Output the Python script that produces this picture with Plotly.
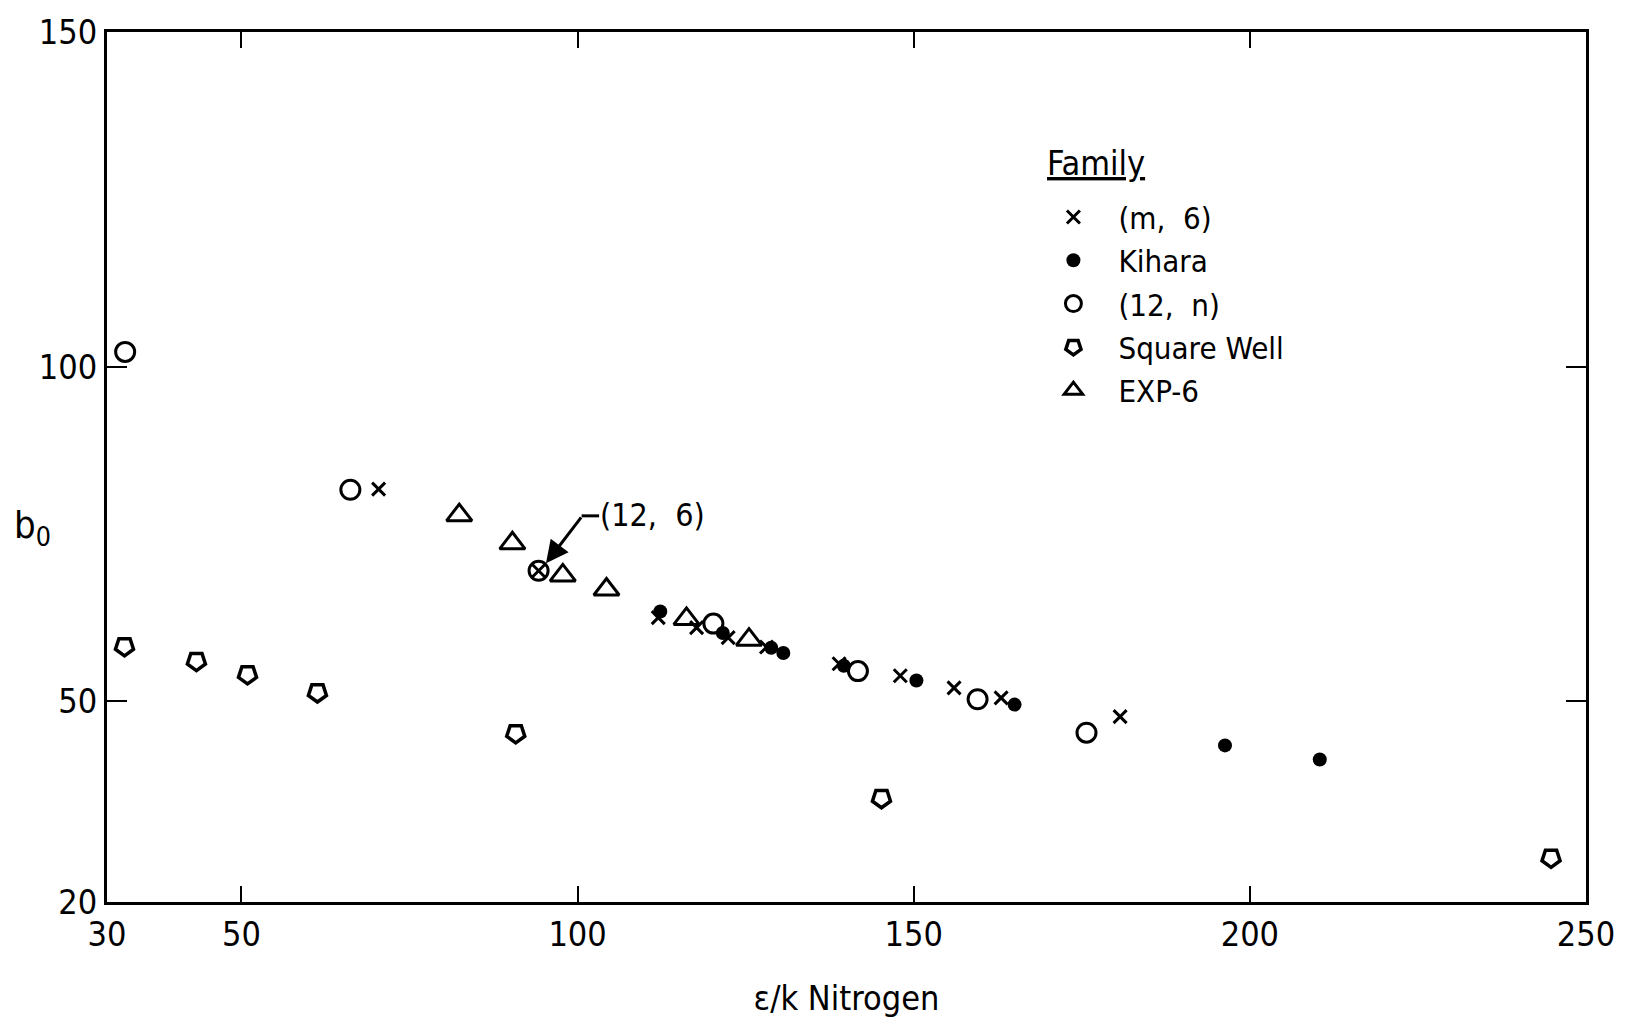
import plotly.graph_objects as go

# (m, 6) family
m6_x = [94.2, 70.4, 112.0, 117.7, 122.4, 128.1, 138.9, 148.0, 156.0, 163.0, 180.7]
m6_y = [69.5, 81.7, 62.5, 61.0, 59.5, 58.1, 55.6, 53.8, 52.0, 50.5, 47.7]
# Kihara
kihara_x = [112.3, 121.6, 128.8, 130.6, 139.6, 150.4, 165.0, 196.3, 210.4]
kihara_y = [63.4, 60.2, 58.0, 57.2, 55.3, 53.1, 49.5, 43.4, 41.3]
# (12, n)
n12_x = [32.7, 66.2, 94.2, 120.2, 141.7, 159.5, 175.7]
n12_y = [102.2, 81.6, 69.5, 61.6, 54.5, 50.3, 45.3]
# Square Well
sw_x = [32.6, 43.3, 50.9, 61.3, 90.8, 145.2, 244.8]
sw_y = [58.2, 56.0, 54.0, 51.3, 45.2, 35.5, 26.6]
# EXP-6
exp6_x = [82.4, 90.3, 97.8, 104.3, 116.2, 125.5]
exp6_y = [77.8, 73.6, 68.8, 66.7, 62.3, 59.2]

x_ticks = [30, 50, 100, 150, 200, 250]
y_ticks = [20, 50, 100, 150]

FONT = "Liberation Sans Narrow, DejaVu Sans Condensed, Liberation Sans, sans-serif"

fig = go.Figure()
fig.add_trace(go.Scatter(x=m6_x, y=m6_y, mode="markers", name="(m,  6)",
                         marker=dict(symbol="x-thin", size=13, color="black",
                                     line=dict(width=3, color="black"))))
fig.add_trace(go.Scatter(x=kihara_x, y=kihara_y, mode="markers", name="Kihara",
                         marker=dict(symbol="circle", size=14, color="black")))
fig.add_trace(go.Scatter(x=n12_x, y=n12_y, mode="markers", name="(12,  n)",
                         marker=dict(symbol="circle-open", size=19, color="black",
                                     line=dict(width=3, color="black"))))
fig.add_trace(go.Scatter(x=sw_x, y=sw_y, mode="markers", name="Square Well",
                         marker=dict(symbol="pentagon-open", size=19, color="black", angle=180,
                                     line=dict(width=3.5, color="black"))))
fig.add_trace(go.Scatter(x=exp6_x, y=exp6_y, mode="markers", name="EXP-6",
                         marker=dict(symbol="triangle-up-open", size=22, color="black",
                                     line=dict(width=3, color="black"))))

# (12, 6) callout
fig.add_annotation(x=95.3, y=70.6, xref="x", yref="y", ax=100.7, ay=77.7,
                   axref="x", ayref="y", text="", showarrow=True,
                   arrowhead=2, arrowsize=1.5, arrowwidth=3, arrowcolor="black")
fig.add_shape(type="line", xref="x", yref="y", x0=100.6, y0=77.7, x1=103.2, y1=77.7,
              line=dict(color="black", width=3))
fig.add_annotation(x=103.1, y=77.9, xref="x", yref="y", text="(12,  6)", showarrow=False,
                   xanchor="left", yanchor="middle",
                   font=dict(size=32, color="black", family=FONT))

# y-axis label
fig.add_annotation(x=-0.064, y=0.43, xref="paper", yref="paper", text="b<sub>0</sub>",
                   showarrow=False, font=dict(size=38, color="black", family=FONT))

# legend heading
fig.add_annotation(x=0.634, y=0.850, xref="paper", yref="paper", text="<u>Family</u>",
                   showarrow=False, xanchor="left", yanchor="middle",
                   font=dict(size=34, color="black", family=FONT))

axis_common = dict(showline=True, linecolor="black", linewidth=3, mirror="ticks",
                   ticks="inside", tickcolor="black", tickwidth=2, showgrid=False,
                   zeroline=False, tickfont=dict(size=34, color="black", family=FONT))

fig.update_xaxes(range=[30, 250], tickvals=x_ticks, ticklen=16,
                 title=dict(text="ε/k Nitrogen", font=dict(size=34, color="black", family=FONT),
                            standoff=34),
                 **axis_common)
fig.update_yaxes(range=[20, 150], tickvals=y_ticks, ticklen=20, **axis_common)

fig.update_layout(
    width=1641, height=1024,
    margin=dict(l=107, r=55, t=29, b=120),
    paper_bgcolor="white", plot_bgcolor="white",
    font=dict(family=FONT, color="black"),
    legend=dict(x=0.623, y=0.818, xanchor="left", yanchor="top",
                font=dict(size=31, family=FONT, color="black"),
                bgcolor="rgba(0,0,0,0)", tracegroupgap=0, itemsizing="trace",
                itemwidth=80),
    showlegend=True,
)

fig.write_html("out.html")
